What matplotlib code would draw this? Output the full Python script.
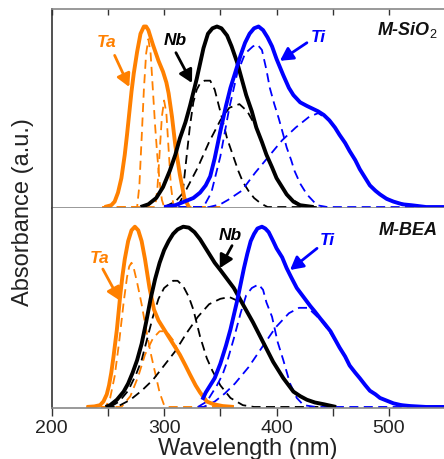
import matplotlib
matplotlib.use('Agg')
from matplotlib import pyplot as plt
from matplotlib.ticker import MultipleLocator

plt.rcParams['font.family'] = ['Liberation Sans', 'DejaVu Sans']
plt.rcParams['mathtext.fontset'] = 'custom'
plt.rcParams['mathtext.rm'] = 'Liberation Sans'
plt.rcParams['mathtext.it'] = 'Liberation Sans:italic'
plt.rcParams['mathtext.bf'] = 'Liberation Sans:bold'

ORANGE = '#FF8000'
BLUE = '#0000FF'
BLACK = '#000000'

# ---- M-SiO2 (top panel) ----
ta_sio2_wl = [247, 253, 256, 259, 262, 265, 267, 269, 271, 273, 276, 279, 282, 284, 286, 290, 295, 299, 302,
              304, 307, 310, 314, 318, 322]
ta_sio2 = [0, 0.01, 0.03, 0.08, 0.16, 0.29, 0.40, 0.52, 0.64, 0.74, 0.86, 0.96, 1.0, 1.0, 0.98, 0.90, 0.81,
           0.75, 0.69, 0.63, 0.50, 0.34, 0.18, 0.05, 0]
ta_sio2_c1_wl = [245, 276, 278, 280, 282, 284, 286, 288, 290, 292, 294, 296, 298, 300, 350]
ta_sio2_c1 = [0, 0, 0.12, 0.38, 0.65, 0.85, 0.93, 0.85, 0.65, 0.45, 0.28, 0.14, 0.04, 0, 0]
ta_sio2_c2_wl = [245, 292, 294, 296, 298, 300, 302, 304, 306, 308, 310, 350]
ta_sio2_c2 = [0, 0, 0.10, 0.30, 0.50, 0.59, 0.52, 0.32, 0.12, 0.02, 0, 0]

nb_sio2_wl = [279, 286, 293, 299, 305, 310, 314, 319, 323, 329, 335, 339, 343, 347, 351, 356, 360, 365, 369,
              373, 378, 382, 387, 391, 396, 400, 405, 409, 415, 421, 433]
nb_sio2 = [0, 0.015, 0.05, 0.11, 0.20, 0.29, 0.38, 0.47, 0.56, 0.71, 0.88, 0.96, 0.99, 1.0, 0.99, 0.95, 0.89,
           0.80, 0.71, 0.62, 0.53, 0.44, 0.36, 0.29, 0.22, 0.16, 0.11, 0.07, 0.03, 0.01, 0]
nb_sio2_c1_wl = [300, 312, 316, 320, 323, 326, 329, 332, 336, 341, 345, 352, 356, 361, 366, 370, 375, 380,
                 386, 392, 440]
nb_sio2_c1 = [0, 0, 0.05, 0.28, 0.45, 0.58, 0.65, 0.685, 0.70, 0.70, 0.65, 0.48, 0.38, 0.29, 0.20, 0.14,
              0.09, 0.05, 0.02, 0, 0]
nb_sio2_c2_wl = [300, 310, 320, 330, 340, 350, 358, 367, 374, 382, 391, 400, 409, 421, 433, 440]
nb_sio2_c2 = [0, 0.03, 0.10, 0.22, 0.36, 0.48, 0.55, 0.57, 0.53, 0.44, 0.29, 0.16, 0.07, 0.01, 0, 0]

ti_sio2_wl = [300, 310, 318, 326, 332, 337, 341, 345, 350, 355, 359, 364, 368, 372, 376, 380, 384, 388, 392,
              396, 400, 406, 411, 415, 421, 427, 432, 437, 442, 447, 452, 456, 461, 465, 470, 474, 479, 483,
              488, 492, 498, 504, 512, 520, 533, 550]
ti_sio2 = [0, 0.01, 0.03, 0.05, 0.08, 0.12, 0.17, 0.27, 0.42, 0.56, 0.66, 0.76, 0.84, 0.91, 0.96, 0.99, 1.0,
           0.98, 0.94, 0.89, 0.82, 0.73, 0.66, 0.62, 0.58, 0.56, 0.545, 0.53, 0.51, 0.48, 0.44, 0.40, 0.355,
           0.31, 0.26, 0.21, 0.16, 0.12, 0.09, 0.07, 0.045, 0.03, 0.015, 0.01, 0, 0]
ti_sio2_c1_wl = [300, 335, 342, 350, 358, 365, 372, 379, 383, 387, 391, 394, 398, 402, 406, 409, 413, 416,
                 421, 427, 436, 445, 550]
ti_sio2_c1 = [0, 0, 0.08, 0.28, 0.55, 0.74, 0.85, 0.89, 0.90, 0.87, 0.76, 0.66, 0.57, 0.49, 0.40, 0.33,
              0.26, 0.20, 0.13, 0.07, 0.01, 0, 0]
ti_sio2_c2_wl = [300, 340, 350, 357, 369, 381, 393, 405, 417, 429, 437, 447, 456, 465, 474, 483, 492, 504,
                 519, 533, 550]
ti_sio2_c2 = [0, 0, 0.015, 0.04, 0.09, 0.19, 0.28, 0.37, 0.44, 0.50, 0.52, 0.48, 0.40, 0.31, 0.21, 0.12,
              0.07, 0.03, 0.01, 0, 0]

# ---- M-BEA (bottom panel) ----
ta_bea_wl = [231, 238, 243, 246, 249, 251, 253, 255, 258, 261, 263, 265, 268, 271, 274, 277, 280, 283, 287,
             291, 295, 299, 305, 310, 314, 319, 323, 328, 332, 338, 344, 352, 362]
ta_bea = [0, 0.003, 0.01, 0.03, 0.07, 0.12, 0.19, 0.28, 0.43, 0.62, 0.73, 0.82, 0.92, 0.98, 1.0, 0.98, 0.92,
          0.82, 0.66, 0.54, 0.48, 0.44, 0.38, 0.33, 0.29, 0.23, 0.18, 0.12, 0.08, 0.03, 0.015, 0.005, 0]
ta_bea_c1_wl = [231, 248, 252, 256, 260, 264, 267, 269, 271, 273, 276, 280, 284, 288, 292, 296, 300, 303, 360]
ta_bea_c1 = [0, 0, 0.05, 0.17, 0.36, 0.58, 0.72, 0.78, 0.80, 0.77, 0.69, 0.57, 0.43, 0.30, 0.19, 0.08, 0.01,
             0, 0]
ta_bea_c2_wl = [231, 262, 270, 277, 283, 290, 296, 302, 308, 314, 319, 323, 328, 332, 338, 345, 355, 362]
ta_bea_c2 = [0, 0, 0.06, 0.17, 0.29, 0.38, 0.42, 0.42, 0.37, 0.29, 0.23, 0.18, 0.12, 0.08, 0.03, 0.01, 0, 0]

nb_bea_wl = [248, 252, 258, 264, 268, 272, 276, 280, 284, 288, 292, 296, 300, 304, 308, 312, 317, 322, 327,
             332, 336, 341, 345, 350, 356, 362, 370, 379, 388, 397, 406, 415, 421, 427, 434, 442, 453]
nb_bea = [0, 0.01, 0.04, 0.085, 0.13, 0.19, 0.26, 0.35, 0.47, 0.60, 0.71, 0.80, 0.87, 0.92, 0.96, 0.985,
          1.0, 0.995, 0.97, 0.93, 0.89, 0.84, 0.80, 0.76, 0.71, 0.66, 0.57, 0.47, 0.36, 0.25, 0.16, 0.085,
          0.06, 0.04, 0.025, 0.015, 0]
nb_bea_c1_wl = [252, 260, 268, 275, 280, 285, 290, 295, 300, 308, 312, 317, 322, 326, 332, 338, 343, 350,
                359, 370, 380, 453]
nb_bea_c1 = [0, 0.03, 0.09, 0.18, 0.26, 0.38, 0.50, 0.60, 0.66, 0.70, 0.70, 0.67, 0.61, 0.54, 0.39, 0.27,
             0.20, 0.12, 0.05, 0.01, 0, 0]
nb_bea_c2_wl = [248, 258, 270, 280, 290, 300, 310, 320, 330, 340, 350, 358, 365, 370, 379, 388, 397, 406,
                415, 427, 442, 453]
nb_bea_c2 = [0, 0, 0.04, 0.09, 0.15, 0.23, 0.31, 0.41, 0.50, 0.57, 0.60, 0.61, 0.59, 0.57, 0.47, 0.36, 0.25,
             0.16, 0.085, 0.04, 0.015, 0]

ti_bea_wl = [334, 337, 341, 345, 350, 355, 359, 362, 365, 368, 371, 374, 377, 380, 383, 387, 390, 393, 397,
             400, 405, 409, 413, 418, 424, 430, 434, 439, 443, 448, 452, 456, 461, 465, 470, 474, 479, 483,
             488, 492, 498, 504, 511, 519, 533, 550]
ti_bea = [0.04, 0.08, 0.12, 0.16, 0.24, 0.34, 0.43, 0.51, 0.59, 0.68, 0.77, 0.85, 0.92, 0.96, 0.99, 1.0,
          0.99, 0.97, 0.92, 0.88, 0.83, 0.77, 0.72, 0.66, 0.61, 0.56, 0.53, 0.49, 0.46, 0.42, 0.375, 0.33,
          0.28, 0.23, 0.19, 0.16, 0.12, 0.09, 0.07, 0.05, 0.035, 0.02, 0.01, 0.005, 0, 0]
ti_bea_c1_wl = [330, 338, 343, 347, 352, 356, 362, 368, 373, 378, 384, 388, 391, 396, 401, 406, 412, 418,
                424, 435, 550]
ti_bea_c1 = [0, 0.03, 0.08, 0.12, 0.18, 0.25, 0.38, 0.52, 0.62, 0.66, 0.68, 0.65, 0.58, 0.50, 0.36, 0.26,
             0.13, 0.05, 0.01, 0, 0]
ti_bea_c2_wl = [330, 335, 345, 354, 363, 375, 387, 399, 411, 420, 428, 438, 447, 456, 465, 474, 483, 492,
                504, 519, 533, 550]
ti_bea_c2 = [0, 0, 0.03, 0.075, 0.13, 0.22, 0.33, 0.44, 0.52, 0.55, 0.55, 0.49, 0.42, 0.33, 0.23, 0.16,
             0.09, 0.05, 0.02, 0.005, 0, 0]

# element labels: (text, colour, text pos, arrow tail, arrow head) in data units
labels_sio2 = [('Ta', ORANGE, (248.7, 0.886), (256.0, 0.84), (269.0, 0.665)),
               ('Nb', BLACK, (309.7, 0.90), (310.5, 0.855), (324.8, 0.687)),
               ('Ti', BLUE, (437.3, 0.914), (427.0, 0.91), (403.0, 0.81))]
labels_bea = [('Ta', ORANGE, (243.0, 0.798), (245.5, 0.765), (260.7, 0.59)),
              ('Nb', BLACK, (359.0, 0.925), (360.4, 0.895), (349.5, 0.77)),
              ('Ti', BLUE, (445.3, 0.897), (436.0, 0.88), (412.0, 0.76))]

DASH = (0, (5, 3))


def draw_panel(ax, solids, comps, labels, title):
    for wl, v, c in comps:
        ax.plot(wl, v, color=c, lw=1.3, ls=DASH)
    for wl, v, c in solids:
        ax.plot(wl, v, color=c, lw=2.8, solid_capstyle='butt')
    for txt, c, tpos, tail, head in labels:
        ax.text(tpos[0], tpos[1], txt, color=c, fontsize=12.5, fontweight='bold', fontstyle='italic',
                ha='center', va='baseline')
        ax.annotate('', xy=head, xytext=tail,
                    arrowprops=dict(arrowstyle='-|>,head_length=0.55,head_width=0.3', color=c, lw=2,
                                    shrinkA=0, shrinkB=0, mutation_scale=14))
    ax.text(543.6, 0.953, title, fontsize=13, fontweight='bold', fontstyle='italic', color='#111111',
            ha='right', va='baseline')
    ax.set_xlim(200, 550)
    ax.set_yticks([])
    ax.spines['right'].set_visible(False)
    ax.spines['left'].set_color('#333333')
    for s in ('top', 'bottom'):
        ax.spines[s].set_color('#888888')
    for s in ax.spines.values():
        s.set_linewidth(1.2)


def main():
    fig = plt.figure(figsize=(4.44, 4.59), dpi=100)
    ax1 = fig.add_axes([0.1164, 0.5468, 0.8863, 0.4336])
    ax2 = fig.add_axes([0.1164, 0.1118, 0.8863, 0.4351])

    draw_panel(ax1,
               [(ta_sio2_wl, ta_sio2, ORANGE), (nb_sio2_wl, nb_sio2, BLACK), (ti_sio2_wl, ti_sio2, BLUE)],
               [(ta_sio2_c1_wl, ta_sio2_c1, ORANGE), (ta_sio2_c2_wl, ta_sio2_c2, ORANGE),
                (nb_sio2_c1_wl, nb_sio2_c1, BLACK), (nb_sio2_c2_wl, nb_sio2_c2, BLACK),
                (ti_sio2_c1_wl, ti_sio2_c1, BLUE), (ti_sio2_c2_wl, ti_sio2_c2, BLUE)],
               labels_sio2, r'M-SiO$_{\mathrm{2}}$')
    draw_panel(ax2,
               [(ta_bea_wl, ta_bea, ORANGE), (nb_bea_wl, nb_bea, BLACK), (ti_bea_wl, ti_bea, BLUE)],
               [(ta_bea_c1_wl, ta_bea_c1, ORANGE), (ta_bea_c2_wl, ta_bea_c2, ORANGE),
                (nb_bea_c1_wl, nb_bea_c1, BLACK), (nb_bea_c2_wl, nb_bea_c2, BLACK),
                (ti_bea_c1_wl, ti_bea_c1, BLUE), (ti_bea_c2_wl, ti_bea_c2, BLUE)],
               labels_bea, 'M-BEA')

    ax1.set_ylim(-0.0055, 1.097)
    ax2.set_ylim(-0.004, 1.104)

    ax1.xaxis.set_major_locator(MultipleLocator(50))
    ax1.tick_params(axis='x', which='both', bottom=False, top=True, labelbottom=False, direction='in',
                    length=4, width=1, color='#333333')
    ax2.spines['top'].set_visible(False)
    ax2.xaxis.set_major_locator(MultipleLocator(100))
    ax2.xaxis.set_minor_locator(MultipleLocator(50))
    ax2.tick_params(axis='x', which='both', direction='out', length=6, width=1, color='#333333',
                    labelsize=14, pad=3, labelcolor='#222222')

    fig.text(247.5 / 444, 1 - 455 / 459, 'Wavelength (nm)', fontsize=17, ha='center', va='baseline',
             color='#222222')
    fig.text(23 / 444, 1 - 212 / 459, 'Absorbance (a.u.)', fontsize=17, rotation=90, ha='center',
             va='center', color='#222222')

    plt.savefig('out.png', dpi=100)
    plt.close()


if __name__ == '__main__':
    main()
